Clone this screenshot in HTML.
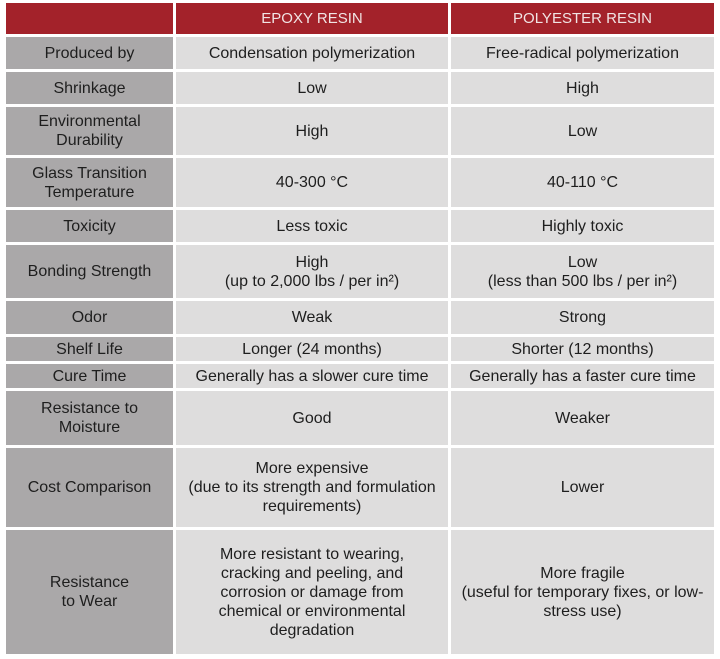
<!DOCTYPE html>
<html><head><meta charset="utf-8"><style>
html,body{margin:0;padding:0;background:#fff;width:720px;height:659px;overflow:hidden}
.c{position:absolute;display:flex;align-items:center;justify-content:center;text-align:center;
font-family:"Liberation Sans Narrow","Liberation Sans",sans-serif;font-size:16px;line-height:19px;color:#1e1e1e;box-sizing:border-box;padding:0 4px}
.a{background:#aaa8a9}
.b{background:#dedddd}
.h{background:#a3222a;color:#f1e4e4;font-size:15px}
</style></head><body>
<div class="c h" style="left:6px;top:3px;width:167px;height:31px"></div>
<div class="c h" style="left:176px;top:3px;width:272px;height:31px">EPOXY RESIN</div>
<div class="c h" style="left:451px;top:3px;width:263px;height:31px">POLYESTER RESIN</div>

<div class="c a" style="left:6px;top:37px;width:167px;height:32px">Produced by</div>
<div class="c b" style="left:176px;top:37px;width:272px;height:32px">Condensation polymerization</div>
<div class="c b" style="left:451px;top:37px;width:263px;height:32px">Free-radical polymerization</div>

<div class="c a" style="left:6px;top:72px;width:167px;height:32px">Shrinkage</div>
<div class="c b" style="left:176px;top:72px;width:272px;height:32px">Low</div>
<div class="c b" style="left:451px;top:72px;width:263px;height:32px">High</div>

<div class="c a" style="left:6px;top:107px;width:167px;height:48px">Environmental<br>Durability</div>
<div class="c b" style="left:176px;top:107px;width:272px;height:48px">High</div>
<div class="c b" style="left:451px;top:107px;width:263px;height:48px">Low</div>

<div class="c a" style="left:6px;top:158px;width:167px;height:49px">Glass Transition<br>Temperature</div>
<div class="c b" style="left:176px;top:158px;width:272px;height:49px">40-300 °C</div>
<div class="c b" style="left:451px;top:158px;width:263px;height:49px">40-110 °C</div>

<div class="c a" style="left:6px;top:210px;width:167px;height:32px">Toxicity</div>
<div class="c b" style="left:176px;top:210px;width:272px;height:32px">Less toxic</div>
<div class="c b" style="left:451px;top:210px;width:263px;height:32px">Highly toxic</div>

<div class="c a" style="left:6px;top:245px;width:167px;height:53px">Bonding Strength</div>
<div class="c b" style="left:176px;top:245px;width:272px;height:53px">High<br>(up to 2,000 lbs / per in²)</div>
<div class="c b" style="left:451px;top:245px;width:263px;height:53px">Low<br>(less than 500 lbs / per in²)</div>

<div class="c a" style="left:6px;top:301px;width:167px;height:33px">Odor</div>
<div class="c b" style="left:176px;top:301px;width:272px;height:33px">Weak</div>
<div class="c b" style="left:451px;top:301px;width:263px;height:33px">Strong</div>

<div class="c a" style="left:6px;top:337px;width:167px;height:24px">Shelf Life</div>
<div class="c b" style="left:176px;top:337px;width:272px;height:24px">Longer (24 months)</div>
<div class="c b" style="left:451px;top:337px;width:263px;height:24px">Shorter (12 months)</div>

<div class="c a" style="left:6px;top:364px;width:167px;height:24px">Cure Time</div>
<div class="c b" style="left:176px;top:364px;width:272px;height:24px">Generally has a slower cure time</div>
<div class="c b" style="left:451px;top:364px;width:263px;height:24px">Generally has a faster cure time</div>

<div class="c a" style="left:6px;top:391px;width:167px;height:54px">Resistance to<br>Moisture</div>
<div class="c b" style="left:176px;top:391px;width:272px;height:54px">Good</div>
<div class="c b" style="left:451px;top:391px;width:263px;height:54px">Weaker</div>

<div class="c a" style="left:6px;top:448px;width:167px;height:79px">Cost Comparison</div>
<div class="c b" style="left:176px;top:448px;width:272px;height:79px">More expensive<br>(due to its strength and formulation<br>requirements)</div>
<div class="c b" style="left:451px;top:448px;width:263px;height:79px">Lower</div>

<div class="c a" style="left:6px;top:530px;width:167px;height:124px">Resistance<br>to Wear</div>
<div class="c b" style="left:176px;top:530px;width:272px;height:124px">More resistant to wearing,<br>cracking and peeling, and<br>corrosion or damage from<br>chemical or environmental<br>degradation</div>
<div class="c b" style="left:451px;top:530px;width:263px;height:124px">More fragile<br>(useful for temporary fixes, or low-<br>stress use)</div>
</body></html>
